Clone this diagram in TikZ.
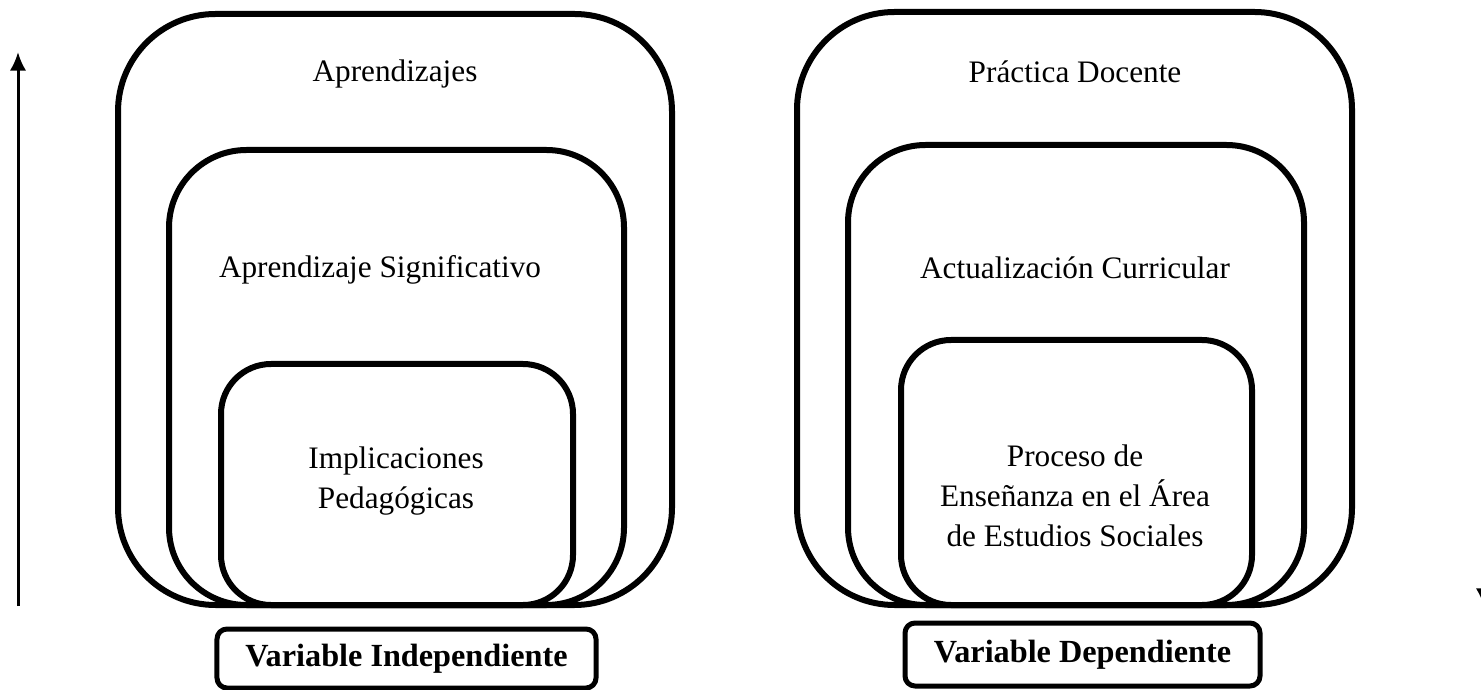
\documentclass[tikz,border=0pt]{standalone}
\usepackage{fontspec}
\setmainfont{Liberation Serif}
\usetikzlibrary{arrows.meta}
\begin{document}
\begin{tikzpicture}[>=latex,line join=round,x=0.4bp,y=-0.4bp,
  txt/.style={font=\fontsize{12.5bp}{16bp}\selectfont,align=center},
  frame/.style={draw,line width=2.4bp},
  tag/.style={draw,line width=2bp,rounded corners=4bp,inner sep=0pt,
    font=\fontsize{12.9bp}{15bp}\selectfont\bfseries}]
%%
\useasboundingbox (0,0) rectangle (1481,690);
% left side
\draw [frame,rounded corners=39bp] (118,14) rectangle (672,605);
\draw [frame,rounded corners=31bp] (169,150) rectangle (624,605);
\draw [frame,rounded corners=20bp] (221,364) rectangle (573,605);
\node (node_0) at (395,74) [txt] {Aprendizajes};
\node (node_1) at (380,270) [txt] {Aprendizaje Significativo};
\node (node_2) at (396,481) [txt] {Implicaciones\\Pedagógicas};
\node (node_3) at (406.5,658.5) [tag,minimum width=151.6bp,minimum height=23.6bp] {Variable Independiente};
% right side
\draw [frame,rounded corners=39bp] (797,12) rectangle (1352,605);
\draw [frame,rounded corners=31bp] (848,145) rectangle (1304,605);
\draw [frame,rounded corners=20bp] (901,340) rectangle (1252,605);
\node (node_4) at (1075,72) [txt] {Práctica Docente};
\node (node_5) at (1075,268) [txt] {Actualización Curricular};
\node (node_6) at (1075,496) [txt] {Proceso de\\Enseñanza en el Área\\de Estudios Sociales};
\node (node_7) at (1082.5,654.5) [tag,minimum width=142bp,minimum height=25.2bp] {Variable Dependiente};
% arrows
\coordinate (arr_0) at (18,606);
\coordinate (arr_1) at (18,52);
\coordinate (arr_2) at (1484,55);
\coordinate (arr_3) at (1484,607);
\draw [black,line width=1.2bp,-{Latex[length=7.5bp,width=6.6bp]}] (arr_0) -- (arr_1);
\draw [black,line width=1.2bp,-{Latex[length=7.5bp,width=6.6bp]}] (arr_2) -- (arr_3);
%
\end{tikzpicture}
\end{document}
